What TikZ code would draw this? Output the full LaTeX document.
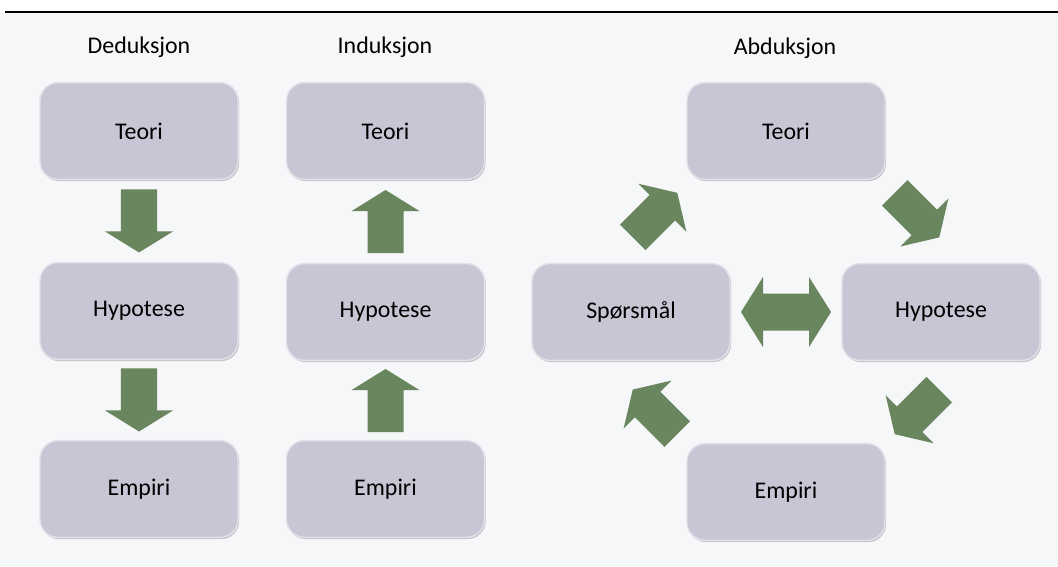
\documentclass[tikz,border=0pt]{standalone}
\usepackage{fontspec}
\setmainfont{Carlito}
\usetikzlibrary{calc,shadows}

\definecolor{boxfill}{RGB}{198,198,212}
\definecolor{boxrim}{RGB}{226,226,234}
\definecolor{arrowgreen}{RGB}{106,134,94}
\definecolor{paper}{RGB}{246,247,249}

\begin{document}
\begin{tikzpicture}[x=0.025cm,y=-0.025cm]
      \tikzset{box/.style={rectangle,rounded corners=0.45cm,fill=boxfill,draw=boxrim,line width=1pt,
          minimum width=4.95cm,minimum height=2.42cm,inner sep=0pt,
          drop shadow={shadow xshift=0.8pt,shadow yshift=-1.2pt,opacity=0.35,fill=black!60},
          font=\fontsize{17}{20}\selectfont}}
      \tikzset{title/.style={font=\fontsize{17}{20}\selectfont}}
      \tikzset{fatarrow/.pic={\fill[arrowgreen] (-0.7875cm,-0.45cm) -- (0.26cm,-0.45cm) -- (0.26cm,-0.85cm)
          -- (0.7875cm,0cm) -- (0.26cm,0.85cm) -- (0.26cm,0.45cm) -- (-0.7875cm,0.45cm) -- cycle;}}
      \tikzset{twinarrow/.pic={\fill[arrowgreen] (-1.125cm,0cm) -- (-0.575cm,-0.875cm) -- (-0.575cm,-0.4625cm)
          -- (0.575cm,-0.4625cm) -- (0.575cm,-0.875cm) -- (1.125cm,0cm) -- (0.575cm,0.875cm)
          -- (0.575cm,0.4625cm) -- (-0.575cm,0.4625cm) -- (-0.575cm,0.875cm) -- cycle;}}
      \useasboundingbox (0,0) rectangle (1058,566);
      \fill[paper] (0,12) rectangle (1058,566);
      \draw[line width=1.2pt] (5,12) -- (1058,12);
      % deduksjon
      \node[title] (dtitle) at (139,47) {Deduksjon};
      \node[box] (dt) at (139,131) {Teori};
      \node[box] (dh) at (139,311) {Hypotese};
      \node[box] (de) at (139,489) {Empiri};
      \pic[rotate=-90] at ($(dt.south)!0.5!(dh.north)$) {fatarrow};
      \pic[rotate=-90] at ($(dh.south)!0.5!(de.north)$) {fatarrow};
      % induksjon
      \node[title] (ititle) at (385,47) {Induksjon};
      \node[box] (it) at (385.5,131) {Teori};
      \node[box] (ih) at (385.5,312) {Hypotese};
      \node[box] (ie) at (385.5,489) {Empiri};
      \pic[rotate=90] at ($(ih.north)!0.5!(it.south)$) {fatarrow};
      \pic[rotate=90] at ($(ie.north)!0.5!(ih.south)$) {fatarrow};
      % abduksjon
      \node[title] (atitle) at (785,48) {Abduksjon};
      \node[box] (at) at (786,131) {Teori};
      \node[box] (asp) at (631,312) {Spørsmål};
      \node[box] (ah) at (941,312) {Hypotese};
      \node[box] (ae) at (786,492) {Empiri};
      \pic[rotate=45] at ($(at.south)+(-131,35)$) {fatarrow};
      \pic[rotate=-45] at ($(at.south)+(131,35)$) {fatarrow};
      \pic[rotate=-135] at ($(ae.north)+(131,-31)$) {fatarrow};
      \pic[rotate=135] at ($(ae.north)+(-131,-31)$) {fatarrow};
      \pic at ($(asp.east)!0.5!(ah.west)$) {twinarrow};
\end{tikzpicture}
\end{document}
